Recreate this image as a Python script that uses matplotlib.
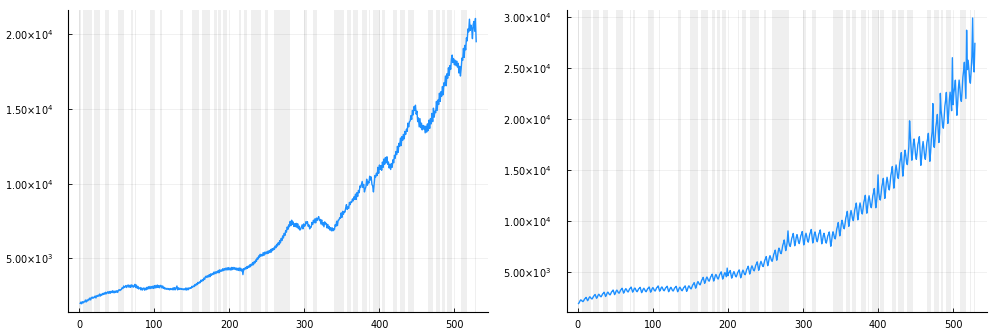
import numpy as np
import matplotlib
matplotlib.use("Agg")
import matplotlib.pyplot as plt
from matplotlib.ticker import FuncFormatter

# seasonally adjusted series (left panel)
adjusted = [
    2000, 2090, 1970, 2110, 2030, 2120, 2100, 2220, 2090, 2220, 2160, 2280,
    2230, 2360, 2230, 2370, 2420, 2330, 2410, 2390, 2490, 2360, 2510, 2460,
    2550, 2480, 2620, 2490, 2610, 2550, 2660, 2590, 2700, 2610, 2740, 2640,
    2700, 2780, 2670, 2790, 2670, 2800, 2720, 2840, 2710, 2820, 2710, 2820,
    2740, 2850, 2730, 2860, 2920, 2850, 2920, 2920, 3050, 2990, 3160, 3060,
    3100, 3190, 3060, 3180, 3230, 3080, 3200, 3070, 3240, 3100, 3210, 3080,
    3150, 3270, 3060, 3220, 3010, 3130, 2960, 3010, 3060, 2900, 3030, 2890,
    2990, 3030, 2880, 3010, 2910, 3070, 2950, 3110, 2980, 3130, 2990, 3120,
    3010, 3150, 3000, 3180, 3030, 3200, 3050, 3220, 3060, 3190, 3040, 3200,
    3180, 3030, 3160, 3000, 3070, 2950, 3020, 2940, 3000, 2930, 2990, 2900,
    2990, 2920, 2980, 2910, 3040, 2900, 3050, 2910, 3030, 3160, 2900, 3040,
    2930, 3010, 2940, 2990, 2920, 2980, 2910, 2970, 2900, 3030, 2890, 3010,
    2910, 3040, 2980, 3050, 3010, 3140, 3080, 3160, 3120, 3260, 3180, 3320,
    3250, 3400, 3320, 3430, 3380, 3550, 3460, 3580, 3520, 3690, 3600, 3780,
    3820, 3730, 3850, 3770, 3920, 3780, 3970, 3870, 3990, 3920, 4080, 3970,
    4110, 3990, 4120, 4050, 4200, 4040, 4240, 4130, 4230, 4150, 4310, 4190,
    4320, 4220, 4350, 4240, 4380, 4230, 4390, 4250, 4360, 4220, 4400, 4260,
    4400, 4280, 4390, 4260, 4360, 4220, 4340, 4200, 4370, 4180, 4350, 4170,
    4290, 3920, 4320, 4250, 4380, 4300, 4450, 4340, 4490, 4400, 4570, 4450,
    4620, 4540, 4720, 4580, 4790, 4700, 4900, 4810, 5030, 4950, 5170, 5080,
    5280, 5150, 5270, 5180, 5390, 5200, 5420, 5300, 5440, 5320, 5480, 5350,
    5530, 5400, 5600, 5430, 5660, 5550, 5700, 5610, 5830, 5720, 5940, 5830,
    6050, 5920, 6190, 6040, 6340, 6200, 6510, 6370, 6680, 6540, 6870, 6760,
    7100, 6950, 7250, 7120, 7480, 7200, 7560, 7280, 7440, 7140, 7320, 7130,
    7350, 7080, 7320, 6990, 7160, 6900, 6960, 7100, 7250, 6980, 7310, 7150,
    7200, 7460, 7330, 7460, 7150, 7250, 6980, 7100, 7090, 7410, 7270, 7560,
    7390, 7650, 7380, 7700, 7540, 7690, 7800, 7540, 7610, 7310, 7580, 7240,
    7400, 7120, 7450, 7310, 7350, 7050, 7280, 7000, 7150, 6900, 7060, 6850,
    7050, 6850, 6990, 6920, 7260, 7150, 7490, 7200, 7560, 7570, 7720, 7690,
    8050, 7750, 8150, 7950, 8150, 8100, 8380, 8600, 8280, 8450, 8350, 8750,
    8600, 8800, 8750, 8980, 8850, 9120, 8950, 9300, 8950, 9400, 9150, 9550,
    9400, 9850, 9750, 9950, 10150, 9750, 9950, 9450, 9650, 9800, 10300, 9900,
    10150, 10050, 10500, 10250, 10450, 9950, 9850, 9450, 10000, 10550, 10450, 10700,
    10550, 11100, 10700, 11250, 10950, 11200, 10900, 11450, 11100, 11650, 11300, 11750,
    11400, 11800, 11300, 11450, 11050, 11300, 10950, 11350, 11100, 11600, 11400, 11900,
    11700, 12150, 11950, 12500, 12100, 12700, 12500, 13050, 12550, 13150, 12900, 13300,
    13000, 13500, 13300, 13650, 13500, 14050, 13800, 14150, 14200, 14550, 14300, 14900,
    14600, 15150, 14900, 15250, 14650, 14850, 14150, 14400, 13800, 14350, 13750, 14050,
    13600, 13900, 13650, 13850, 13400, 13850, 13450, 14000, 13550, 14250, 13700, 14350,
    14000, 14700, 14150, 15050, 14450, 14850, 14750, 15500, 14900, 15600, 15300, 16050,
    15500, 16150, 15850, 16500, 15950, 16750, 16550, 17200, 16550, 17350, 17050, 17750,
    17250, 17900, 17650, 18350, 18600, 18100, 18350, 17950, 18250, 17900, 18200, 17800,
    18050, 17400, 17850, 17200, 17700, 18400, 18250, 19050, 18450, 19250, 18950, 19750,
    19550, 20350, 20150, 21000, 20250, 20600, 20400, 19700, 20650, 20850, 20200, 21050,
    19500,
]

# raw series (right panel)
raw = [
    1874, 1987, 2144, 2235, 2172, 2087, 2068, 2181, 2316, 2385, 2476, 2325,
    2150, 2271, 2442, 2537, 2458, 2354, 2325, 2446, 2592, 2662, 2758, 2579,
    2384, 2509, 2687, 2785, 2694, 2575, 2538, 2663, 2814, 2885, 2983, 2783,
    2568, 2701, 2891, 2995, 2896, 2767, 2726, 2859, 3020, 3095, 3199, 2983,
    2752, 2888, 3087, 3192, 3081, 2938, 2889, 3025, 3193, 3267, 3373, 3137,
    2894, 3030, 3231, 3335, 3215, 3064, 3008, 3144, 3313, 3385, 3489, 3242,
    2994, 3118, 3306, 3397, 3265, 3101, 3033, 3157, 3313, 3372, 3464, 3204,
    2944, 3076, 3272, 3372, 3249, 3093, 3033, 3165, 3329, 3397, 3498, 3246,
    2986, 3126, 3333, 3440, 3316, 3160, 3102, 3242, 3416, 3490, 3597, 3342,
    3086, 3214, 3408, 3502, 3366, 3197, 3127, 3255, 3416, 3477, 3572, 3304,
    3036, 3168, 3366, 3465, 3333, 3168, 3102, 3234, 3399, 3465, 3564, 3300,
    3036, 3172, 3374, 3477, 3350, 3189, 3127, 3263, 3432, 3502, 3606, 3346,
    3070, 3239, 3478, 3612, 3502, 3356, 3315, 3484, 3688, 3787, 3922, 3671,
    3380, 3582, 3863, 4025, 3907, 3748, 3710, 3912, 4153, 4275, 4437, 4158,
    3856, 4049, 4328, 4477, 4326, 4132, 4067, 4260, 4496, 4602, 4752, 4429,
    4082, 4283, 4575, 4730, 4563, 4349, 4274, 4475, 4721, 4830, 4985, 4633,
    4274, 4470, 4761, 4910, 4730, 4504, 5350, 4614, 4858, 4960, 5109, 4742,
    4366, 4562, 4854, 5002, 4815, 4579, 4487, 4683, 4927, 5027, 5176, 4796,
    4400, 4633, 4967, 5150, 4983, 4767, 4700, 4933, 5217, 5350, 5533, 5167,
    4768, 5017, 5375, 5570, 5387, 5151, 5076, 5325, 5629, 5770, 5965, 5567,
    5136, 5410, 5799, 6015, 5825, 5576, 5502, 5776, 6107, 6265, 6481, 6058,
    5588, 5894, 6328, 6570, 6364, 6094, 6016, 6322, 6692, 6870, 7112, 6650,
    6124, 6495, 7011, 7310, 7105, 6829, 6768, 7139, 7583, 7810, 8109, 7617,
    7068, 7426, 7941, 9000, 7946, 7592, 7476, 7834, 8270, 8470, 8749, 8158,
    7544, 7880, 8381, 8635, 8315, 7914, 7758, 8094, 8513, 8685, 8939, 8292,
    7628, 7981, 8501, 8770, 8451, 8047, 7896, 8249, 8685, 8870, 9139, 8483,
    7820, 8152, 8653, 8900, 8552, 8118, 7940, 8272, 8688, 8850, 9097, 8408,
    7736, 8051, 8533, 8765, 8416, 7985, 7802, 8117, 8516, 8665, 8897, 8217,
    7496, 7940, 8559, 8915, 8655, 8306, 8222, 8666, 9197, 9465, 9821, 9208,
    8516, 8991, 9663, 10040, 9731, 9325, 9212, 9687, 10261, 10540, 10917, 10217,
    9452, 9934, 10629, 11005, 10639, 10168, 10014, 10496, 11085, 11355, 11731, 10942,
    10088, 10602, 11345, 11745, 11347, 10836, 10666, 11180, 11809, 12095, 12495, 11642,
    10740, 11270, 12040, 12450, 12020, 11470, 11280, 11810, 12460, 12750, 13160, 12250,
    11276, 11871, 12723, 14500, 12761, 12205, 12032, 12627, 13351, 13690, 14157, 13217,
    12196, 12840, 13759, 14265, 13805, 13206, 13022, 13666, 14447, 14815, 15321, 14308,
    13200, 13908, 14917, 15475, 14983, 14342, 14150, 14858, 15717, 16125, 16683, 15592,
    14380, 15173, 16297, 16925, 16398, 15707, 15510, 16303, 17262, 19800, 18353, 17167,
    15940, 16578, 17557, 18025, 17303, 16412, 16030, 16668, 17477, 17775, 18243, 16842,
    15440, 16162, 17223, 17775, 17137, 16328, 16030, 16752, 17643, 18025, 18577, 17258,
    15836, 16735, 17999, 18715, 21500, 17401, 17202, 18101, 19182, 19715, 20431, 19133,
    17676, 18655, 22500, 20815, 20170, 19321, 19082, 20061, 21242, 21815, 22591, 21133,
    19556, 20503, 21886, 22615, 21818, 20803, 26000, 21389, 22554, 23065, 23794, 22125,
    20352, 21426, 22962, 23805, 23031, 22026, 21714, 22788, 24093, 24705, 25548, 23850,
    22000, 28700, 24833, 25750, 24917, 23833, 23500, 24667, 26083, 29900, 25500, 24600,
    27400,
]

# shaded periods (start, end) in observation index
band_start = [0, 5, 20, 34, 51, 69, 74, 94, 108, 134, 150, 164, 179, 185, 192,
              213, 219, 229, 248, 259, 300, 312, 340, 357, 365, 377, 386, 392,
              403, 418, 427, 438, 465, 475, 484, 490, 509, 523, 528]
band_end = [2, 17, 28, 40, 60, 71, 76, 100, 110, 138, 160, 174, 183, 189, 197,
            215, 224, 242, 251, 281, 304, 317, 353, 362, 371, 384, 388, 401,
            408, 424, 434, 446, 471, 481, 487, 497, 517, 524, 529]

xticks = [0, 100, 200, 300, 400, 500]
yticks_left = [5000, 10000, 15000, 20000]
yticks_right = [5000, 10000, 15000, 20000, 25000, 30000]


def sci(v, pos):
    e = int(np.floor(np.log10(v)))
    return f"{v / 10**e:.2f}×10$^{{{e}}}$"


fig = plt.figure(figsize=(9.96, 3.32), dpi=100)
ax1 = fig.add_axes([0.0686, 0.0611, 0.4214, 0.909])
ax2 = fig.add_axes([0.569, 0.0611, 0.4217, 0.909])

panels = [(ax1, adjusted, yticks_left, (1440, 21620)),
          (ax2, raw, yticks_right, (1070, 30690))]

for ax, series, yt, ylim in panels:
    x = np.arange(1, len(series) + 1)
    for s, e in zip(band_start, band_end):
        ax.axvspan(s, e, color="gray", alpha=0.12, lw=0, zorder=0)
    ax.plot(x, series, color="#1E90FF", lw=1.0, zorder=3)
    ax.set_xlim(-14.8, 544.8)
    ax.set_ylim(*ylim)
    ax.set_xticks(xticks)
    ax.set_yticks(yt)
    ax.yaxis.set_major_formatter(FuncFormatter(sci))
    ax.grid(True, color="black", alpha=0.08, lw=0.5)
    ax.set_axisbelow(False)
    for side in ["top", "right"]:
        ax.spines[side].set_visible(False)
    for side in ["left", "bottom"]:
        ax.spines[side].set_linewidth(0.8)
    ax.tick_params(axis="both", direction="in", length=3, width=0.6, labelsize=7)
    ax.tick_params(axis="y", pad=11)
    ax.tick_params(axis="x", pad=6)

fig.savefig("out.png", dpi=100)
